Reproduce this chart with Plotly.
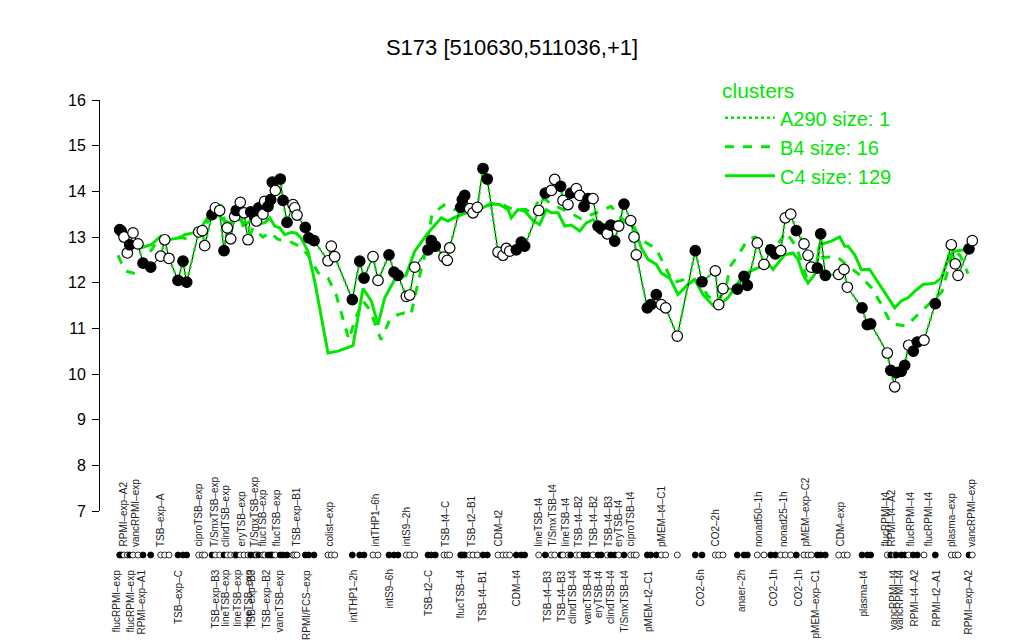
import plotly.graph_objects as go

# ---------------- data ----------------
# sample positions along the x axis, expression values and filled/open status (1 = filled)
pos = [111.7, 113.3, 116, 119.3, 121.7, 125, 130, 135, 142.7, 152.7, 156.7, 161, 170, 175, 178.7,
       190.7, 194.3, 196.7, 204, 207.3, 211.7, 216, 219.3, 222.7, 226.7, 228.3, 232.3, 236, 240,
       242.7, 246.7, 248.5, 250.7, 255, 256.7, 260, 262.7, 264.3, 267.3, 272.3, 275, 279, 285,
       286.7, 289, 297.3, 300.7, 306, 320, 323.3, 326.7, 344.3, 351.7, 356, 365, 370, 381, 386,
       390, 398.3, 401.7, 406.7, 420, 423.3, 427.3, 436, 439.3, 441.7, 452.7, 454.3, 456.7, 461.7,
       465, 469.3, 475, 479.3, 490, 495, 498.3, 501.7, 508.3, 513.3, 516.7, 530.7, 537.3, 543.3,
       546.7, 552.7, 555, 560, 562.7, 568.3, 571.7, 576, 580, 585, 590, 593.3, 599.3, 602.7,
       606.7, 610.7, 616, 622.7, 626, 628.3, 639.3, 642.7, 648.3, 653.3, 657.7, 669.3, 687.3, 694,
       707.3, 710.7, 715, 729.3, 736, 739.3, 749.3, 756, 762.7, 767.3, 772.7, 777.3, 782.7, 788.3,
       796, 800, 803.3, 809.3, 812.7, 817.3, 830.7, 836, 839.3, 854, 859.3, 862.7, 879.3, 882.7,
       886.7, 888.3, 893.3, 896.7, 900.7, 905.3, 909.3, 916, 927.3, 943.3, 947.3, 950, 961, 964.3]
values = [13.16, 13.13, 13.0, 12.65, 12.83, 13.09, 12.85, 12.43, 12.34, 12.58, 12.94, 12.53, 12.05,
          12.47, 12.01, 13.11, 13.14, 12.81, 13.49, 13.64, 13.58, 12.70, 13.2, 12.96, 13.45, 13.58,
          13.76, 13.53, 12.94, 13.55, 13.45, 13.35, 13.64, 13.5, 13.78, 13.67, 13.82, 14.2, 14.02,
          14.27, 13.8, 13.32, 13.71, 13.64, 13.48, 13.21, 12.98, 12.92, 12.48, 12.8, 12.57, 11.63,
          12.47, 12.1, 12.57, 12.05, 12.61, 12.23, 12.16, 11.7, 11.73, 12.34, 12.72, 12.92, 12.8,
          12.56, 12.49, 12.76, 13.65, 13.82, 13.91, 13.62, 13.53, 13.65, 14.5, 14.27, 12.67, 12.6,
          12.75, 12.69, 12.72, 12.89, 12.8, 13.58, 13.96, 14.02, 14.26, 14.11, 13.8, 13.71, 13.96,
          14.06, 13.91, 13.67, 13.84, 13.84, 13.24, 13.18, 13.07, 13.26, 12.91, 13.24, 13.72, 13.36,
          13.0, 12.61, 11.45, 11.52, 11.74, 11.52, 11.45, 10.83, 12.70, 12.02, 12.26, 11.52, 11.87,
          11.86, 12.14, 11.94, 12.87, 12.4, 12.72, 12.63, 12.7, 13.42, 13.5, 13.14, 12.85, 12.6,
          12.34, 12.32, 13.07, 12.16, 12.18, 12.29, 11.9, 11.45, 11.08, 11.1, 10.46, 10.08, 9.72,
          10.03, 10.06, 10.19, 10.63, 10.5, 10.7, 10.74, 11.54, 12.83, 12.41, 12.16, 12.74, 12.92]
filled = [1, 1, 0, 0, 1, 0, 0, 1, 1, 0, 0, 0, 1, 1, 1, 0, 0, 0, 1, 0, 0, 1, 0, 0, 0, 1, 0, 0, 0,
          1, 1, 0, 1, 0, 0, 1, 1, 1, 0, 1, 1, 1, 0, 0, 0, 1, 1, 1, 0, 0, 0, 1, 1, 1, 0, 0, 1, 1,
          1, 0, 0, 0, 1, 1, 1, 0, 0, 0, 1, 1, 1, 0, 0, 0, 1, 1, 0, 0, 0, 0, 1, 1, 1, 0, 1, 0,
          0, 1, 0, 0, 1, 0, 0, 1, 1, 0, 1, 1, 0, 1, 1, 0, 1, 0, 0, 0, 1, 1, 1, 0, 0, 0, 1, 1,
          0, 0, 0, 1, 1, 1, 0, 0, 1, 1, 0, 0, 0, 1, 0, 0, 0, 1, 1, 1, 0, 0, 0, 1, 1, 1, 0, 1,
          0, 1, 1, 1, 0, 1, 1, 0, 1, 0, 0, 0, 1, 0]

# cluster C4 (solid) profile
c4_pos = [111.7, 120, 133, 143, 153, 160, 171.7, 176.7, 185, 193, 201.7, 208, 216.7, 223, 230, 236.7,
          243, 250, 256.7, 261.7, 266.7, 271.7, 276.7, 283, 288, 293, 300, 306.7, 320, 330, 345, 355,
          363.3, 370, 376.7, 386.7, 398, 406.7, 420, 433.3, 440, 446.7, 458.3, 470, 483.3, 491.7, 500,
          503.3, 510, 516.7, 525, 531.7, 538.3, 543.3, 550, 556.7, 563.3, 571.7, 578.3, 585, 591.7,
          600, 606.7, 613.3, 620, 626.7, 633.3, 640, 648.3, 653.3, 661.7, 670, 680, 686.7, 695, 705,
          711.7, 720, 733.3, 741.7, 751.7, 760, 765, 776.7, 785, 790, 795, 800, 806.7, 811.7, 823.3,
          831.7, 836.7, 840, 846.7, 853.3, 861.7, 873.3, 886.7, 893.3, 900, 906.7, 915, 926.7, 933.3,
          941.7, 946.7, 956.7]
c4_val = [12.98, 12.83, 12.76, 12.83, 13.02, 12.94, 12.98, 13.05, 13.09, 13.2, 13.49, 13.53, 13.35,
          13.31, 13.42, 13.27, 13.35, 13.29, 13.31, 13.42, 13.24, 13.2, 13.05, 13.1, 13.09, 12.98,
          12.69, 12.03, 10.46, 10.5, 10.62, 11.87, 11.6, 11.08, 11.67, 12.07, 12.16, 12.69, 13.09,
          13.42, 13.35, 13.43, 13.53, 13.6, 13.72, 13.71, 13.6, 13.42, 13.6, 13.57, 13.36, 13.27,
          13.6, 13.53, 13.53, 13.24, 13.26, 13.13, 13.31, 13.38, 13.27, 13.27, 13.33, 13.35, 13.31,
          13.2, 12.76, 12.51, 12.4, 12.21, 12.1, 11.74, 11.96, 12.07, 11.74, 11.5, 11.52, 11.67,
          12.1, 12.25, 12.34, 12.43, 12.29, 12.61, 12.65, 12.51, 12.18, 11.99, 12.18, 12.83, 12.91,
          13.0, 12.8, 12.8, 12.61, 12.29, 12.29, 11.89, 11.45, 11.6, 11.67, 11.81, 11.96, 11.99,
          12.1, 12.61, 12.69, 12.72]

# cluster B4 (dashed) profile
b4_pos = [110, 113, 118, 127, 135, 143, 150, 160, 172, 180, 186, 193, 200, 213, 218, 226, 233, 238,
          245, 255, 262, 270, 282, 293, 300, 310, 320, 328, 335, 341, 347, 355, 362, 367, 373, 382,
          390, 398, 403, 411, 418, 424, 436, 446, 458, 470, 480, 491, 505, 518, 525, 532, 545, 560,
          573, 585, 595, 603, 614, 625, 636, 648, 656, 665, 682, 692, 700, 710, 718, 722, 730, 740,
          747, 755, 765, 778, 788, 799, 805, 812, 829, 838, 850, 863, 874, 883, 898, 910, 920, 934,
          945, 952, 960]
b4_val = [12.6, 12.45, 12.25, 12.2, 12.55, 12.7, 12.95, 12.9, 13.0, 12.95, 13.05, 13.1, 13.35, 13.71,
          13.2, 13.4, 13.5, 12.83, 13.2, 13.0, 13.1, 12.95, 12.9, 12.78, 12.6, 12.22, 12.1, 11.75,
          11.2, 10.75, 11.2, 11.6, 11.4, 11.1, 10.75, 11.2, 11.3, 11.35, 11.3, 12.1, 12.7, 13.5,
          13.7, 13.6, 13.65, 13.55, 13.7, 13.75, 13.6, 13.6, 13.5, 13.9, 13.7, 13.55, 13.4, 13.5,
          13.6, 13.67, 13.4, 13.2, 12.9, 12.75, 12.4, 12.0, 12.1, 12.0, 11.7, 11.6, 11.9, 12.35,
          12.6, 12.95, 13.0, 12.9, 12.7, 13.1, 12.8, 12.1, 12.2, 12.55, 12.57, 12.4, 12.2, 11.9,
          11.5, 11.1, 11.05, 11.3, 11.5, 11.8, 12.7, 12.6, 12.2]

# tick labels (upper row above the sample dots, lower row below)
top_labels = ["RPMI–exp–A2", "vancRPMI–exp", "TSB–exp–A", "ciproTSB–exp", "T/SmxTSB–exp",
              "clindTSB–exp", "eryTSB–exp", "T/SmxTSB–exp", "flucTSB–exp", "flucTSB–exp",
              "TSB–exp–B1", "colist–exp", "intTHP1–6h", "intS9–2h", "TSB–t4–C", "TSB–t2–B1",
              "CDM–t2", "lineTSB–t4", "T/SmxTSB–t4", "lineTSB–t4", "TSB–t4–B2", "TSB–t4–B2",
              "TSB–t4–B3", "eryTSB–t4", "ciproTSB–t4", "pMEM–t4–C1", "CO2–2h", "nonad50–1h",
              "nonad25–1h", "pMEM–exp–C2", "CDM–exp", "flucRPMI–t4", "RPMI–t4–A2", "flucRPMI–t4",
              "flucRPMI–t4", "plasma–exp", "vancRPMI–exp"]
top_pos = [115, 127, 152, 190, 206, 217, 233, 246, 254, 268, 288, 321, 367, 398, 437, 463, 490,
           530, 544, 557, 570, 585, 600, 610, 622, 653, 707, 750, 775, 797, 832, 877, 883, 902,
           920, 943, 963]
bottom_labels = ["flucRPMI–exp", "flucRPMI–exp", "RPMI–exp–A1", "TSB–exp–C", "TSB–exp–B3",
                 "lineTSB–exp", "lineTSB–exp", "lineTSB–exp", "TSB–exp–B3", "TSB–exp–B2",
                 "vancTSB–exp", "RPMI/FCS–exp", "intTHP1–2h", "intS9–6h", "TSB–t2–C",
                 "flucTSB–t4", "TSB–t4–B1", "CDM–t4", "TSB–t4–B3", "TSB–t4–B3", "clindTSB–t4",
                 "vancTSB–t4", "eryTSB–t4", "clindTSB–t4", "T/SmxTSB–t4", "pMEM–t2–C1", "CO2–6h",
                 "anaer–2h", "CO2–1h", "CO2–1h", "pMEM–exp–C1", "plasma–t4", "vancRPMI–t4",
                 "vancRPMI–t4", "RPMI–t4–A2", "RPMI–t2–A1", "RPMI–exp–A2"]
bottom_pos = [108, 122, 133, 170, 207, 217, 229, 240, 243, 258, 271, 298, 345, 381, 420, 452, 474,
              508, 539, 553, 564, 579, 590, 602, 616, 640, 692, 733, 765, 790, 807, 855, 885, 891,
              906, 928, 960]

title = "S173 [510630,511036,+1]"
GREEN = "#00e600"
FONT = "Liberation Sans, Arial, sans-serif"

# ---------------- layout geometry (pixels) ----------------
W, H = 1024, 640
PLOT_TOP, PLOT_BOTTOM = 92, 600          # full plotting region (incl. sample strip)
AXIS_BOTTOM = 503                         # bottom of the value axis
PLOT_H = PLOT_BOTTOM - PLOT_TOP


def paper_y(px):
    return (PLOT_BOTTOM - px) / PLOT_H


main_dom = [paper_y(AXIS_BOTTOM), 1.0]
strip_dom = [0.0, paper_y(AXIS_BOTTOM) - 0.01]
strip_level = paper_y(547) / strip_dom[1]   # sample dots row, in strip-axis units (range 0..1)

fig = go.Figure()

fig.add_trace(go.Scatter(x=c4_pos, y=c4_val, mode="lines", name="C4 size: 129",
                         line=dict(color=GREEN, width=3), legendrank=3))
fig.add_trace(go.Scatter(x=b4_pos, y=b4_val, mode="lines", name="B4 size: 16",
                         line=dict(color=GREEN, width=3, dash="dash"), legendrank=2))
fig.add_trace(go.Scatter(x=pos, y=values, mode="lines", showlegend=False,
                         line=dict(color="black", width=1), hoverinfo="skip"))
fig.add_trace(go.Scatter(x=pos, y=values, mode="lines", name="A290 size: 1",
                         line=dict(color=GREEN, width=2.5, dash="dot"), legendrank=1))

fill_colors = ["black" if f else "white" for f in filled]
fig.add_trace(go.Scatter(x=pos, y=values, mode="markers", showlegend=False,
                         marker=dict(size=10.5, color=fill_colors, line=dict(color="black", width=1.2))))

# sample dot row below the axis
fig.add_trace(go.Scatter(x=pos, y=[strip_level] * len(pos), mode="markers", showlegend=False,
                         yaxis="y2",
                         marker=dict(size=6, color=fill_colors, line=dict(color="black", width=0.8))))

annotations = []
for lab, xp in zip(top_labels, top_pos):
    annotations.append(dict(x=xp, y=paper_y(541), xref="x", yref="paper", text=lab,
                            showarrow=False, textangle=-90, xanchor="center", yanchor="bottom",
                            font=dict(size=10, color="#222222", family=FONT)))
for lab, xp in zip(bottom_labels, bottom_pos):
    annotations.append(dict(x=xp, y=paper_y(560), xref="x", yref="paper", text=lab,
                            showarrow=False, textangle=-90, xanchor="center", yanchor="top",
                            font=dict(size=10, color="#222222", family=FONT)))

fig.update_layout(
    width=W, height=H,
    margin=dict(l=92, r=34, t=PLOT_TOP, b=H - PLOT_BOTTOM),
    paper_bgcolor="white", plot_bgcolor="white",
    font=dict(family=FONT, color="black"),
    title=dict(text=title, x=504 / W, xref="container", y=1 - 39 / H, yref="container",
               xanchor="center", yanchor="middle", font=dict(size=22, color="black")),
    xaxis=dict(range=[92, 990], visible=False),
    yaxis=dict(range=[7, 16], domain=main_dom, dtick=1, showgrid=False, zeroline=False,
               showline=True, linecolor="black", linewidth=1, ticks="outside", ticklen=7,
               tickcolor="black", tickfont=dict(size=16, color="black"), ticklabelstandoff=3),
    yaxis2=dict(range=[0, 1], domain=strip_dom, visible=False, anchor="x"),
    legend=dict(x=(712 - 92) / 898, y=paper_y(63), xanchor="left", yanchor="top",
                title=dict(text="clusters", font=dict(size=21, color=GREEN)),
                font=dict(size=20, color=GREEN), bgcolor="rgba(0,0,0,0)",
                itemwidth=50, tracegroupgap=0),
    annotations=annotations,
    showlegend=True,
)

fig.write_html("out.html")
